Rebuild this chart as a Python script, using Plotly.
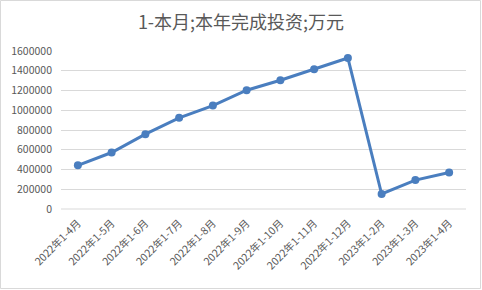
import plotly.graph_objects as go

categories = ["2022年1-4月", "2022年1-5月", "2022年1-6月", "2022年1-7月", "2022年1-8月",
              "2022年1-9月", "2022年1-10月", "2022年1-11月", "2022年1-12月",
              "2023年1-2月", "2023年1-3月", "2023年1-4月"]
values = [442000, 572000, 758000, 923000, 1047000, 1203000, 1304000, 1415000, 1529000,
          152000, 293000, 370000]
y_ticks = [0, 200000, 400000, 600000, 800000, 1000000, 1200000, 1400000, 1600000]

W, H = 482, 290
ml, mr, mt, mb = 61, 16, 51, 81
pw, ph = W - ml - mr, H - mt - mb

font = "Noto Sans CJK SC, Noto Sans, sans-serif"

fig = go.Figure()
fig.add_trace(go.Scatter(
    x=categories, y=values, mode="lines+markers",
    line=dict(color="#4a7ebf", width=3),
    marker=dict(color="#4a7ebf", size=8),
    hoverinfo="skip",
))

fig.update_layout(
    width=W, height=H,
    margin=dict(l=ml, r=mr, t=mt, b=mb),
    paper_bgcolor="white", plot_bgcolor="white",
    showlegend=False,
    title=dict(text="1-本月;本年完成投资;万元", x=0.5, xref="container", y=1 - 23 / H,
               yanchor="middle", xanchor="center",
               font=dict(family=font, size=18, color="#595959")),
    font=dict(family=font, color="#595959"),
    xaxis=dict(type="category", tickangle=-45, showgrid=False, zeroline=False,
               showline=False, ticks="", tickfont=dict(size=10.5, color="#595959"),
               ticklabelstandoff=5,
               range=[-0.5, len(categories) - 0.5]),
    yaxis=dict(range=[0, 1600000], tickvals=y_ticks, ticktext=[str(v) for v in y_ticks],
               showgrid=True, gridcolor="#d9d9d9", gridwidth=1, zeroline=False,
               showline=False, ticks="", ticklabelstandoff=8,
               tickfont=dict(size=10.5, color="#595959")),
    shapes=[dict(type="line", xref="paper", yref="paper", x0=0, x1=1, y0=0, y1=0,
                 line=dict(color="#d9d9d9", width=1), layer="below"),
            dict(type="rect", xref="paper", yref="paper",
                 x0=-(ml - 0.5) / pw, x1=1 + (mr - 1.5) / pw,
                 y0=-(mb - 1.5) / ph, y1=1 + (mt - 0.5) / ph,
                 line=dict(color="#d9d9d9", width=1))],
)

fig.write_html("out.html")
